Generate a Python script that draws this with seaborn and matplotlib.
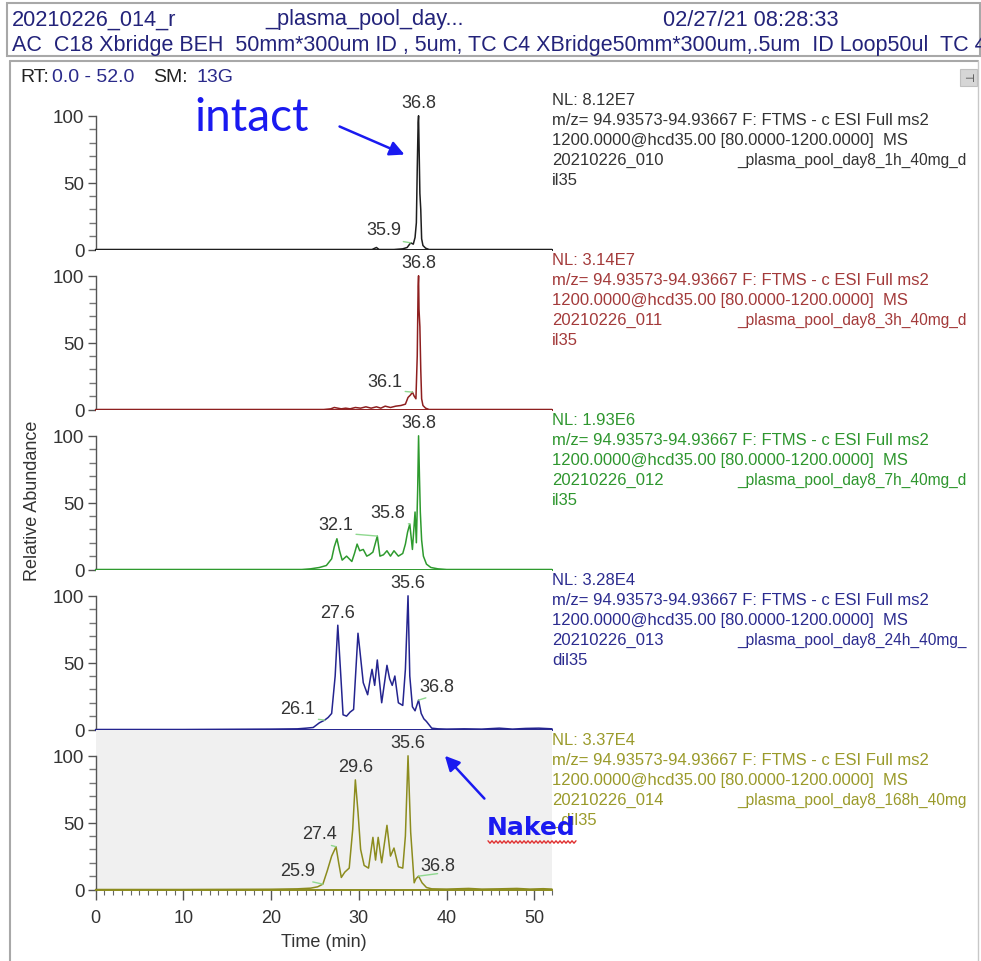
import numpy as np
import matplotlib
matplotlib.use('Agg')
import matplotlib.pyplot as plt
from matplotlib.patches import Rectangle
from matplotlib.lines import Line2D
from matplotlib.ticker import MultipleLocator, FixedLocator
import seaborn as sns

# retention time (min) / relative abundance (%)
time_1h = [0, 5, 10, 15, 20, 25, 28, 31.5, 32.0, 32.3, 34, 35.0, 35.5, 35.9, 36.2, 36.4, 36.55,
           36.65, 36.75, 36.8, 36.85, 36.95, 37.05, 37.15, 37.3, 37.6, 38.0, 40, 45, 52]
abund_1h = [0, 0, 0, 0, 0, 0, 0, 0, 1.5, 0, 0, 0.5, 1.5, 5, 4, 9, 20,
            60, 95, 100, 80, 42, 30, 8, 3, 1, 0, 0, 0, 0]

time_3h = [0, 10, 20, 26.0, 26.8, 27.2, 27.6, 28.0, 28.5, 29.0, 29.6, 30.2, 30.8, 31.4, 32.0, 32.5,
           33.0, 33.6, 34.2, 34.8, 35.3, 35.6, 35.9, 36.1, 36.3, 36.5, 36.65, 36.75, 36.8, 36.85,
           36.95, 37.05, 37.15, 37.3, 37.6, 38.0, 40, 45, 52]
abund_3h = [0, 0, 0, 0, 0.5, 1.5, 1, 0.5, 1, 0.5, 1.5, 1, 2, 1, 2, 1,
            2.5, 1.5, 2.5, 3, 4, 9, 11, 13, 10, 8, 40, 92, 100, 75,
            62, 30, 8, 3, 1, 0, 0, 0, 0]

time_7h = [0, 10, 20, 23.5, 24.5, 25.5, 26.3, 26.9, 27.2, 27.5, 27.8, 28.1, 28.6, 29.2, 29.5, 29.8,
           30.1, 30.5, 30.9, 31.2, 31.6, 32.1, 32.4, 32.8, 33.2, 33.6, 34.0, 34.5, 35.0, 35.3, 35.55,
           35.8, 36.1, 36.4, 36.55, 36.7, 36.8, 36.9, 37.0, 37.15, 37.35, 37.7, 38.2, 39.0, 40, 45, 52]
abund_7h = [0, 0, 0, 0, 0.5, 1.5, 3, 8, 17, 23, 14, 7, 10, 6, 12, 19,
            14, 15, 10, 11, 13, 25, 10, 11, 14, 10, 14, 10, 12, 19, 28,
            34, 15, 43, 20, 60, 100, 70, 43, 22, 10, 4, 1.5, 0.5, 0, 0, 0]

time_24h = [0, 10, 20, 23.0, 24.0, 24.8, 25.5, 26.1, 26.5, 26.9, 27.3, 27.6, 27.9, 28.2, 28.6, 29.0,
            29.4, 29.9, 30.1, 30.5, 31.0, 31.3, 31.5, 31.8, 32.1, 32.6, 33.2, 33.5, 33.8, 34.1, 34.5,
            35.0, 35.3, 35.6, 35.8, 36.1, 36.4, 36.8, 37.1, 37.4, 37.7, 38.3, 39.0, 40, 42, 44, 46,
            47.5, 49, 50.5, 52]
abund_24h = [0, 0, 0.3, 0.5, 1, 1.5, 5, 7, 9, 12, 40, 78, 45, 11, 10, 13,
             15, 72, 60, 35, 26, 38, 45, 33, 52, 20, 48, 38, 33, 40, 20,
             18, 45, 100, 40, 17, 14, 22, 12, 8, 6, 1, 0.5, 0.3, 0.5, 0.3, 1,
             0.3, 0.8, 1, 0.5]

time_168h = [0, 10, 20, 23, 24.5, 25.3, 25.9, 26.4, 26.9, 27.4, 27.7, 28.0, 28.4, 28.9, 29.3, 29.6,
             29.9, 30.2, 30.6, 31.1, 31.6, 31.9, 32.2, 32.6, 33.2, 33.6, 34.0, 34.5, 35.0, 35.3, 35.6,
             35.9, 36.3, 36.5, 36.8, 37.2, 37.7, 38.3, 40, 42.5, 44, 46, 48, 49.5, 51, 52]
abund_168h = [0, 0, 0.2, 0.5, 1, 2, 4, 14, 25, 32, 20, 9, 13, 16, 45, 82,
              58, 30, 18, 16, 39, 22, 39, 20, 48, 25, 31, 17, 16, 40, 100,
              43, 5, 8, 10, 5, 1.5, 0.5, 0.3, 0.8, 0.3, 0.5, 0.8, 0.3, 0.6, 0.3]

times = [time_1h, time_3h, time_7h, time_24h, time_168h]
abunds = [abund_1h, abund_3h, abund_7h, abund_24h, abund_168h]

nl_levels = ['8.12E7', '3.14E7', '1.93E6', '3.28E4', '3.37E4']
file_ids = ['20210226_010', '20210226_011', '20210226_012', '20210226_013', '20210226_014']
file_tails = ['_plasma_pool_day8_1h_40mg_d', '_plasma_pool_day8_3h_40mg_d', '_plasma_pool_day8_7h_40mg_d',
              '_plasma_pool_day8_24h_40mg_', '_plasma_pool_day8_168h_40mg']
file_wraps = ['il35', 'il35', 'il35', 'dil35', '_dil35']
scan_filter = ['m/z= 94.93573-94.93667 F: FTMS - c ESI Full ms2',
               '1200.0000@hcd35.00 [80.0000-1200.0000]  MS']

peak_labels = [[36.8, 35.9], [36.8, 36.1], [36.8, 35.8, 32.1],
               [27.6, 35.6, 26.1, 36.8], [29.6, 35.6, 27.4, 25.9, 36.8]]

trace_colors = ['#1e1e1e', '#8e1f1f', '#2e9a2e', '#24248f', '#8c8c1e']
text_colors = ['#333333', '#a33a3a', '#2e962e', '#2b2b8f', '#9a9a2a']

# label offsets in pixels (text centre relative to the peak) for labels with a leader line
leader_offsets = {(0, 35.9): (-27, 13), (1, 36.1): (-28, 11), (2, 35.8): (-22, 12),
                  (2, 32.1): (-42, 12), (3, 26.1): (-27, 12), (3, 36.8): (18, 14),
                  (4, 27.4): (-17, 13), (4, 25.9): (-25, 14), (4, 36.8): (19, 11)}

W, H = 981, 962
sns.set_style('white')
plt.rcParams['font.family'] = ['Liberation Sans', 'DejaVu Sans']

fig = plt.figure(figsize=(W / 100, H / 100), dpi=100)


def fx(x):
    return x / W


def fy(y):
    return 1 - y / H


# window frames
fig.add_artist(Rectangle((fx(7), fy(57)), fx(980) - fx(7), fy(4) - fy(57), transform=fig.transFigure,
                         fill=False, edgecolor='#a8a8a8', lw=1.5))
fig.add_artist(Line2D([fx(10), fx(10)], [fy(62), fy(962)], transform=fig.transFigure, color='#a8a8a8', lw=1.5))
fig.add_artist(Line2D([fx(10), fx(978)], [fy(62), fy(62)], transform=fig.transFigure, color='#a8a8a8', lw=1.5))
fig.add_artist(Line2D([fx(978), fx(978)], [fy(62), fy(962)], transform=fig.transFigure, color='#c8c8c8', lw=1))
fig.add_artist(Rectangle((fx(960), fy(87)), fx(17), 17 / H, transform=fig.transFigure,
                         facecolor='#d6d6d6', edgecolor='#c0c0c0', lw=0.8))
fig.text(fx(968.5), fy(78.5), '⊣', fontsize=8, color='#333333', ha='center', va='center',
         family=['DejaVu Sans'])

header_color = '#23237a'
fig.text(fx(12), fy(20), '20210226_014_r', fontsize=15.7, color=header_color, va='center')
fig.text(fx(265), fy(20), '_plasma_pool_day...', fontsize=15.7, color=header_color, va='center')
fig.text(fx(663), fy(20), '02/27/21 08:28:33', fontsize=15.7, color=header_color, va='center')
fig.text(fx(12), fy(45), 'AC  C18 Xbridge BEH  50mm*300um ID , 5um, TC C4 XBridge50mm*300um,.5um  ID Loop50ul  TC 40',
         fontsize=15.5, color=header_color, va='center')

rt_y = fy(78)
fig.text(fx(20), rt_y, 'RT:', fontsize=14, color='#222222', va='center')
fig.text(fx(52), rt_y, '0.0 - 52.0', fontsize=14, color='#2a2a8a', va='center')
fig.text(fx(153), rt_y, 'SM:', fontsize=14, color='#222222', va='center')
fig.text(fx(197), rt_y, '13G', fontsize=14, color='#2a2a8a', va='center')

ax_left, ax_right = 95.5, 552
panel_h = 160
ytop = panel_h / 133.7 * 100

axes = []
for i in range(5):
    y0 = 250.5 + panel_h * i
    ax = fig.add_axes([fx(ax_left), fy(y0), fx(ax_right) - fx(ax_left), panel_h / H])
    axes.append(ax)
    col = trace_colors[i]
    sns.lineplot(x=times[i], y=abunds[i], ax=ax, color=col, linewidth=1.1,
                 estimator=None, sort=False, clip_on=False)
    ax.set_xlim(0, 52)
    ax.set_ylim(0, ytop)
    ax.set_xlabel('')
    ax.set_ylabel('')
    for s in ['top', 'right']:
        ax.spines[s].set_visible(False)
    ax.spines['left'].set_bounds(0, 100)
    ax.spines['left'].set_color('#555555')
    ax.spines['left'].set_linewidth(1.0)
    ax.spines['bottom'].set_color(col)
    ax.spines['bottom'].set_linewidth(1.4)
    ax.yaxis.set_major_locator(FixedLocator([0, 50, 100]))
    ax.yaxis.set_minor_locator(FixedLocator([10, 20, 30, 40, 60, 70, 80, 90]))
    ax.tick_params(axis='y', which='major', left=True, length=6, width=1, color='#555555',
                   labelsize=13.5, labelcolor='#333333', pad=2)
    ax.tick_params(axis='y', which='minor', left=True, length=5, width=1, color='#777777')
    if i < 4:
        ax.tick_params(axis='x', which='both', bottom=False, labelbottom=False)
        ax.set_facecolor('white')
    else:
        ax.set_facecolor('#f0f0f0')
        ax.xaxis.set_major_locator(MultipleLocator(10))
        ax.xaxis.set_minor_locator(MultipleLocator(1))
        ax.tick_params(axis='x', which='major', bottom=True, length=7, width=1, color='#555555',
                       labelsize=13, labelcolor='#333333', pad=7)
        ax.tick_params(axis='x', which='minor', bottom=True, length=3.5, width=0.8, color='#666666')
        ax.set_xlabel('Time (min)', fontsize=13, color='#333333', labelpad=5)

    # peak labels
    for rt in peak_labels[i]:
        k = times[i].index(rt)
        peak_y = abunds[i][k]
        off = leader_offsets.get((i, rt))
        if off is None:
            ax.annotate(f'{rt:.1f}', xy=(rt, peak_y), xytext=(0, 13), textcoords='offset pixels',
                        ha='center', va='center', fontsize=13, color='#333333')
        else:
            ax.annotate(f'{rt:.1f}', xy=(rt, peak_y), xytext=off, textcoords='offset pixels',
                        ha='center', va='center', fontsize=13, color='#333333',
                        arrowprops=dict(arrowstyle='-', color='#8fd88f', lw=1.0, relpos=(0.5, 0.0),
                                        shrinkA=0, shrinkB=0))

    # scan / file description on the right
    lines = ['NL: ' + nl_levels[i]] + scan_filter
    tc = text_colors[i]
    for j, line in enumerate(lines):
        ax.annotate(line, xy=(1, 1), xycoords='axes fraction', xytext=(0, -10 - 20 * j),
                    textcoords='offset pixels', ha='left', va='center', fontsize=12, color=tc)
    ax.annotate(file_ids[i], xy=(1, 1), xycoords='axes fraction', xytext=(0, -70),
                textcoords='offset pixels', ha='left', va='center', fontsize=12, color=tc)
    ax.annotate(file_tails[i], xy=(1, 1), xycoords='axes fraction', xytext=(185, -70),
                textcoords='offset pixels', ha='left', va='center', fontsize=11.2, color=tc)
    ax.annotate(file_wraps[i], xy=(1, 1), xycoords='axes fraction', xytext=(0, -90),
                textcoords='offset pixels', ha='left', va='center', fontsize=12, color=tc)

fig.text(fx(33), fy(501), 'Relative Abundance', rotation=90, fontsize=13, color='#333333',
         ha='center', va='center')

# hand-drawn annotations
axes[0].text(11.3, 99, 'intact', fontsize=33, color='#1a1af0', family=['Lato', 'DejaVu Sans'],
             ha='left', va='center')
axes[0].annotate('', xy=(35.2, 71), xytext=(27.8, 92),
                 arrowprops=dict(arrowstyle='-|>', color='#1a1af0', lw=1.8, mutation_scale=22,
                                 shrinkA=0, shrinkB=0))
axes[4].annotate('', xy=(39.8, 100), xytext=(44.3, 68),
                 arrowprops=dict(arrowstyle='-|>', color='#1a1af0', lw=1.8, mutation_scale=22,
                                 shrinkA=0, shrinkB=0))
fig.text(fx(531), fy(828), 'Naked', fontsize=18, fontweight='bold', color='#1a1af0',
         family=['DejaVu Sans'], ha='center', va='center')
wx = np.arange(488, 577, 2)
wy = 843 + np.where(np.arange(len(wx)) % 2 == 0, -1.2, 1.2)
fig.add_artist(Line2D(wx / W, 1 - wy / H, transform=fig.transFigure, color='#e03030', lw=1))

fig.savefig('out.png', dpi=100)
